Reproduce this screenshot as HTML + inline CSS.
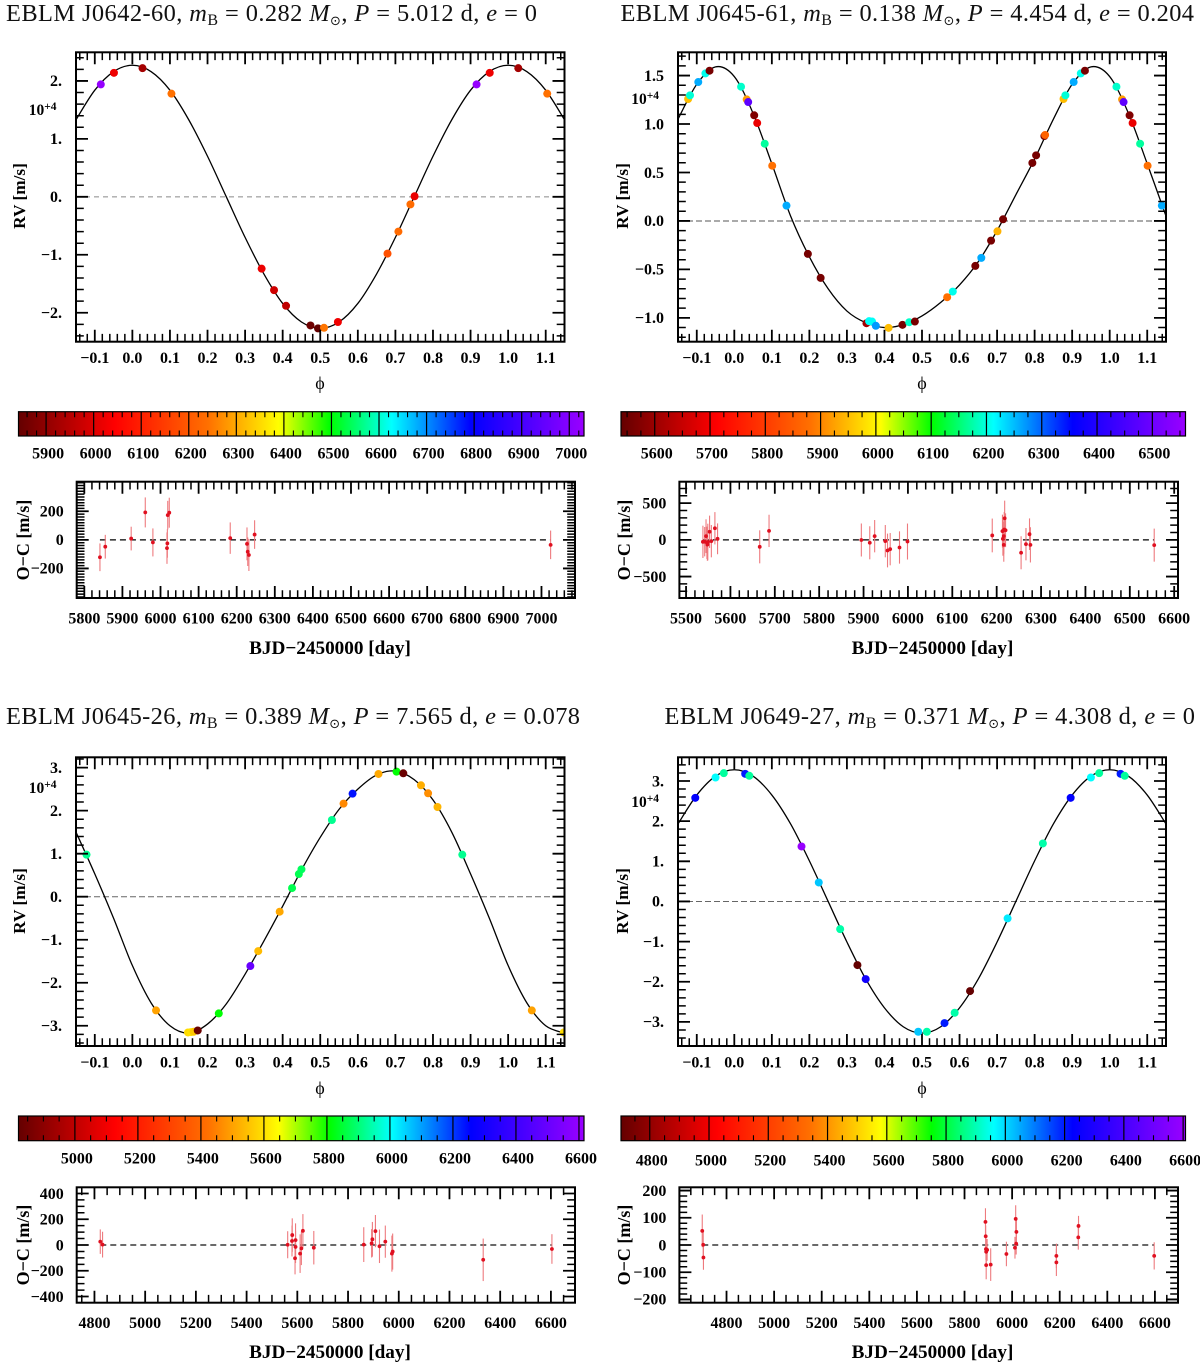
<!DOCTYPE html>
<html lang="en">
<head>
<meta charset="utf-8">
<title>EBLM radial velocity curves</title>
<style>
  html, body { margin: 0; padding: 0; background: #fff; }
  svg { display: block; font-family: "Liberation Serif", "DejaVu Serif", serif; }
  .title { font-size: 24.4px; fill: #111; }
  .sub { font-size: 16px; }
  .axt { font-weight: bold; fill: #000; text-anchor: middle; }
  .sun { font-family: "DejaVu Sans", sans-serif; font-size: 13px; }
  .exp { font-weight: bold; font-size: 15.5px; text-anchor: end; }
  .exp tspan { font-size: 11.5px; }
</style>
</head>
<body>
<svg id="figure" xmlns="http://www.w3.org/2000/svg" width="1200" height="1369" viewBox="0 0 1200 1369">
  <rect x="0" y="0" width="1200" height="1369" fill="#fff"/>
  <defs><linearGradient id="rainbow" x1="0" x2="1" y1="0" y2="0"></linearGradient></defs>

  <text class="title" x="6" y="21" textLength="531">EBLM J0642-60, <tspan font-style="italic">m</tspan><tspan class="sub" dy="4">B</tspan><tspan dy="-4"> = 0.282 </tspan><tspan font-style="italic">M</tspan><tspan class="sun" dy="4">⊙</tspan><tspan dy="-4">, </tspan><tspan font-style="italic">P</tspan> = 5.012 d, <tspan font-style="italic">e</tspan> = 0</text>
  <text class="title" x="620.5" y="21" textLength="573.5">EBLM J0645-61, <tspan font-style="italic">m</tspan><tspan class="sub" dy="4">B</tspan><tspan dy="-4"> = 0.138 </tspan><tspan font-style="italic">M</tspan><tspan class="sun" dy="4">⊙</tspan><tspan dy="-4">, </tspan><tspan font-style="italic">P</tspan> = 4.454 d, <tspan font-style="italic">e</tspan> = 0.204</text>
  <text class="title" x="6" y="724" textLength="574">EBLM J0645-26, <tspan font-style="italic">m</tspan><tspan class="sub" dy="4">B</tspan><tspan dy="-4"> = 0.389 </tspan><tspan font-style="italic">M</tspan><tspan class="sun" dy="4">⊙</tspan><tspan dy="-4">, </tspan><tspan font-style="italic">P</tspan> = 7.565 d, <tspan font-style="italic">e</tspan> = 0.078</text>
  <text class="title" x="664.5" y="724" textLength="530.5">EBLM J0649-27, <tspan font-style="italic">m</tspan><tspan class="sub" dy="4">B</tspan><tspan dy="-4"> = 0.371 </tspan><tspan font-style="italic">M</tspan><tspan class="sun" dy="4">⊙</tspan><tspan dy="-4">, </tspan><tspan font-style="italic">P</tspan> = 4.308 d, <tspan font-style="italic">e</tspan> = 0</text>

  <text class="axt" font-size="17.3" transform="translate(25,196) rotate(-90)">RV [m/s]</text>
  <text class="axt" font-size="17.3" transform="translate(628,196) rotate(-90)">RV [m/s]</text>
  <text class="axt" font-size="17.3" transform="translate(25,901) rotate(-90)">RV [m/s]</text>
  <text class="axt" font-size="17.3" transform="translate(628,901) rotate(-90)">RV [m/s]</text>

  <text class="axt" font-size="18" transform="translate(29,540) rotate(-90)">O−C [m/s]</text>
  <text class="axt" font-size="18" transform="translate(630,540) rotate(-90)">O−C [m/s]</text>
  <text class="axt" font-size="18" transform="translate(29,1245) rotate(-90)">O−C [m/s]</text>
  <text class="axt" font-size="18" transform="translate(630,1245) rotate(-90)">O−C [m/s]</text>

  <text class="axt" font-size="19.2" x="330" y="654">BJD−2450000 [day]</text>
  <text class="axt" font-size="19.2" x="932.5" y="654">BJD−2450000 [day]</text>
  <text class="axt" font-size="19.2" x="330" y="1358">BJD−2450000 [day]</text>
  <text class="axt" font-size="19.2" x="932.5" y="1358">BJD−2450000 [day]</text>

  <text font-size="18" text-anchor="middle" x="320" y="389">ϕ</text>
  <text font-size="18" text-anchor="middle" x="922" y="389">ϕ</text>
  <text font-size="18" text-anchor="middle" x="320" y="1094">ϕ</text>
  <text font-size="18" text-anchor="middle" x="922" y="1094">ϕ</text>

  <text class="exp" x="56.5" y="115">10<tspan dy="-5">+4</tspan></text>
  <text class="exp" x="659" y="104">10<tspan dy="-5">+4</tspan></text>
  <text class="exp" x="56.5" y="793">10<tspan dy="-5">+4</tspan></text>
  <text class="exp" x="659" y="807">10<tspan dy="-5">+4</tspan></text>

  <g id="plots"></g>
</svg>

<script>
/* ---------- shared phase grid of the model curves ---------- */
const curvePhase = [-0.15,-0.10,-0.05,0,0.05,0.10,0.15,0.20,0.25,0.30,0.35,0.40,0.45,0.50,0.55,0.60,0.65,0.70,0.75,0.80,0.85,0.90,0.95,1.00,1.05,1.10,1.15];

/* ---------- J0642-60 ---------- */
const a1Curve = [1.33,1.84,2.16,2.27,2.16,1.84,1.33,0.70,0,-0.70,-1.33,-1.84,-2.16,-2.27,-2.16,-1.84,-1.33,-0.70,0,0.70,1.33,1.84,2.16,2.27,2.16,1.84,1.33];
const a1Phase = [0.916,0.951,0.027,0.104,0.344,0.377,0.409,0.474,0.494,0.510,0.547,0.679,0.708,0.740,0.751];
const a1Rv = [1.94,2.14,2.22,1.78,-1.24,-1.61,-1.88,-2.22,-2.27,-2.26,-2.16,-0.98,-0.60,-0.13,0.01];
const a1Date = [7025,6022,5925,6240,6020,5982,5962,5855,5841,6245,6025,6185,6230,6232,6018];
const a1OcDate = [5841,5855,5923,5960,5980,6017,6018,6019,6023,6183,6227,6229,6232,6247,7024];
const a1OcRes = [-122,-48,9,192,-18,-58,-25,173,190,12,-28,-83,-106,37,-35];
const a1OcErr = [97,83,83,105,98,110,100,100,105,110,115,100,112,100,100];
const a1RvTicks = [-2,-1,0,1,2];
const a1BarTicks = [5900,6000,6100,6200,6300,6400,6500,6600,6700,6800,6900,7000];
const a1OcXTicks = [5800,5900,6000,6100,6200,6300,6400,6500,6600,6700,6800,6900,7000];
const a1OcYTicks = [-200,0,200];

/* ---------- J0645-61 ---------- */
const a2Curve = [1.05,1.41,1.59,1.49,1.11,0.59,0.05,-0.37,-0.70,-0.93,-1.05,-1.10,-1.07,-0.98,-0.84,-0.66,-0.42,-0.10,0.27,0.64,1.05,1.41,1.59,1.49,1.11,0.59,0.05];
const a2Phase = [0.877,0.882,0.904,0.923,0.934,0.018,0.033,0.037,0.053,0.061,0.081,0.101,0.139,0.196,0.230,0.352,0.359,0.367,0.377,0.411,0.448,0.466,0.481,0.567,0.582,0.642,0.658,0.684,0.701,0.716,0.794,0.804,0.826,0.828];
const a2Rv = [1.258,1.296,1.433,1.522,1.55,1.385,1.254,1.227,1.09,1.01,0.797,0.57,0.158,-0.34,-0.588,-1.055,-1.034,-1.038,-1.082,-1.103,-1.072,-1.045,-1.038,-0.787,-0.729,-0.464,-0.381,-0.203,-0.107,0.017,0.598,0.677,0.876,0.887];
const a2Date = [5950,6195,6260,6205,5560,6190,5920,6480,5570,5690,6170,5880,6260,5560,5560,5610,6210,6210,6270,5950,5560,6190,5560,5880,6205,5560,6260,5560,5940,5560,5560,5560,5560,5860];
const a2OcDate = [5538,5542,5545,5547,5548,5549,5553,5557,5565,5571,5666,5687,5895,5914,5925,5949,5954,5960,5981,5999,6190,6213,6214,6216,6216,6217,6218,6220,6255,6266,6274,6276,6555];
const a2OcRes = [-27,-25,50,-40,-65,-30,110,-18,158,14,-95,122,-2,-40,50,-18,-145,-127,-104,-23,60,118,14,-68,50,140,294,131,-176,-59,77,-68,-72];
const a2OcErr = [220,200,230,220,220,250,220,220,220,210,225,220,225,225,220,220,230,220,220,245,230,225,230,230,240,240,240,230,225,220,215,240,225];
const a2RvTicks = [-1,-0.5,0,0.5,1,1.5];
const a2BarTicks = [5600,5700,5800,5900,6000,6100,6200,6300,6400,6500];
const a2OcXTicks = [5500,5600,5700,5800,5900,6000,6100,6200,6300,6400,6500,6600];
const a2OcYTicks = [-500,0,500];

/* ---------- J0645-26 ---------- */
const a3Curve = [1.50,0.53,-0.50,-1.60,-2.47,-3.00,-3.17,-2.96,-2.49,-1.80,-1.03,-0.22,0.62,1.38,2.03,2.50,2.83,2.92,2.72,2.25,1.50,0.53,-0.50,-1.60,-2.47,-3.00,-3.17];
const a3Phase = [0.878,0.063,0.148,0.156,0.163,0.174,0.230,0.314,0.335,0.392,0.425,0.443,0.450,0.531,0.562,0.586,0.655,0.703,0.721,0.768,0.787,0.812];
const a3Rv = [0.977,-2.643,-3.155,-3.147,-3.14,-3.109,-2.713,-1.612,-1.264,-0.349,0.20,0.527,0.636,1.783,2.163,2.395,2.853,2.907,2.868,2.589,2.403,2.085];
const a3Date = [5920,5500,5590,5600,5560,4830,5810,6500,5540,5510,5870,5870,5880,5920,5460,6240,5510,5810,4830,5520,5470,5530];
const a3OcDate = [4823,4832,5562,5579,5580,5591,5593,5593,5611,5616,5622,5665,5862,5893,5896,5908,5924,5947,5973,5976,6333,6604];
const a3OcRes = [26,3,2,31,77,-103,-15,38,-67,-26,110,-21,3,13,44,108,-10,26,-67,-51,-115,-31];
const a3OcErr = [95,100,105,120,130,125,125,130,150,130,130,130,135,110,135,125,130,125,140,140,165,115];
const a3RvTicks = [-3,-2,-1,0,1,2,3];
const a3BarTicks = [5000,5200,5400,5600,5800,6000,6200,6400,6600];
const a3OcXTicks = [4800,5000,5200,5400,5600,5800,6000,6200,6400,6600];
const a3OcYTicks = [-400,-200,0,200,400];

/* ---------- J0649-27 ---------- */
const a4Curve = [1.93,2.65,3.12,3.28,3.12,2.65,1.93,1.01,0,-1.01,-1.93,-2.65,-3.12,-3.28,-3.12,-2.65,-1.93,-1.01,0,1.01,1.93,2.65,3.12,3.28,3.12,2.65,1.93];
const a4Phase = [0.896,0.950,0.972,0.029,0.040,0.179,0.225,0.282,0.328,0.350,0.490,0.513,0.560,0.587,0.628,0.728,0.822];
const a4Rv = [2.581,3.087,3.195,3.178,3.129,1.369,0.473,-0.689,-1.585,-1.934,-3.245,-3.245,-3.029,-2.772,-2.232,-0.423,1.444];
const a4Date = [6230,5960,5880,6200,5880,6600,6020,5890,4700,6270,6020,5890,6200,5890,4700,5980,5890];
const a4OcDate = [4698,4702,4703,5888,5889,5890,5891,5895,5891,5910,5976,6012,6017,6015,6018,6186,6186,6278,6279,6597];
const a4OcRes = [52,1,-46,85,32,-15,-25,-18,-74,-72,-33,-10,5,96,48,-40,-64,28,70,-40];
const a4OcErr = [60,55,45,50,40,40,45,40,52,60,45,40,40,50,50,45,50,45,37,50];
const a4RvTicks = [-3,-2,-1,0,1,2,3];
const a4BarTicks = [4800,5000,5200,5400,5600,5800,6000,6200,6400,6600];
const a4OcXTicks = [4800,5000,5200,5400,5600,5800,6000,6200,6400,6600];
const a4OcYTicks = [-200,-100,0,100,200];

/* ---------- phase tick labels shared by all RV plots ---------- */
const phaseTicks = [-0.1,0,0.1,0.2,0.3,0.4,0.5,0.6,0.7,0.8,0.9,1.0,1.1];

/* ---------- layout of each panel (not data) ---------- */
const panels = [
  { id:'j0642', curve:a1Curve, phase:a1Phase, rv:a1Rv, date:a1Date, ocDate:a1OcDate, ocRes:a1OcRes, ocErr:a1OcErr,
    rvTicks:a1RvTicks, barTicks:a1BarTicks, ocXTicks:a1OcXTicks, ocYTicks:a1OcYTicks,
    rvBox:[76,52.3,564.5,341.7], rvY:[-2.5,2.494], rvMinor:0.2, rvDec:0, rvZero:['#aaa',1.4,'5 4'],
    barBox:[18.5,411.7,584,436], barDom:[5842,7031], barMinor:20, barLabelY:453,
    ocBox:[76.7,481.7,575,598], ocX:[5780,7088], ocY:[-407,407], ocXMinor:20, ocYMinor:20, ocZero:['#000',1.2,'6 4'] },
  { id:'j0645-61', curve:a2Curve, phase:a2Phase, rv:a2Rv, date:a2Date, ocDate:a2OcDate, ocRes:a2OcRes, ocErr:a2OcErr,
    rvTicks:a2RvTicks, barTicks:a2BarTicks, ocXTicks:a2OcXTicks, ocYTicks:a2OcYTicks,
    rvBox:[678,52.3,1166,341.7], rvY:[-1.246,1.74], rvMinor:0.1, rvDec:1, rvZero:['#555',1,'6 3'],
    barBox:[621,411.7,1185.5,436], barDom:[5539,6560], barMinor:25, barLabelY:453,
    ocBox:[679.4,481.7,1178,598], ocX:[5485,6608.6], ocY:[-792,792], ocXMinor:20, ocYMinor:100, ocZero:['#000',1.2,'6 4'] },
  { id:'j0645-26', curve:a3Curve, phase:a3Phase, rv:a3Rv, date:a3Date, ocDate:a3OcDate, ocRes:a3OcRes, ocErr:a3OcErr,
    rvTicks:a3RvTicks, barTicks:a3BarTicks, ocXTicks:a3OcXTicks, ocYTicks:a3OcYTicks,
    rvBox:[76,757.3,564.5,1046], rvY:[-3.47,3.24], rvMinor:0.2, rvDec:0, rvZero:['#666',1,'6 3'],
    barBox:[18.5,1116,584,1140.7], barDom:[4821,6616], barMinor:50, barLabelY:1158,
    ocBox:[76.7,1187.3,575,1302.7], ocX:[4730,6695], ocY:[-448,448], ocXMinor:50, ocYMinor:50, ocZero:['#555',1.8,'6 4'] },
  { id:'j0649', curve:a4Curve, phase:a4Phase, rv:a4Rv, date:a4Date, ocDate:a4OcDate, ocRes:a4OcRes, ocErr:a4OcErr,
    rvTicks:a4RvTicks, barTicks:a4BarTicks, ocXTicks:a4OcXTicks, ocYTicks:a4OcYTicks,
    rvBox:[678,757.3,1166,1046], rvY:[-3.6,3.59], rvMinor:0.2, rvDec:0, rvZero:['#666',1,'6 3'],
    barBox:[621,1116,1185.5,1140.7], barDom:[4703,6608], barMinor:50, barLabelY:1160,
    ocBox:[679.4,1187.3,1178,1302.7], ocX:[4602,6697], ocY:[-212,212], ocXMinor:50, ocYMinor:20, ocZero:['#555',1.8,'6 4'] }
];

/* ---------- colour map ---------- */
const cmapPos = [0,0.17,0.335,0.46,0.55,0.66,0.80,1];
const cmapRgb = [[100,0,0],[255,0,0],[255,112,0],[255,255,0],[0,255,0],[0,255,255],[0,0,255],[154,0,255]];

const NS = 'http://www.w3.org/2000/svg';
function make(parent, tag, attrs) {
  const node = document.createElementNS(NS, tag);
  for (const k in attrs) node.setAttribute(k, attrs[k]);
  parent.appendChild(node);
  return node;
}
function scale(d0, d1, r0, r1) { return v => r0 + (v - d0) / (d1 - d0) * (r1 - r0); }
function cmap(f) {
  f = Math.max(0, Math.min(1, f));
  let i = 0;
  while (i < cmapPos.length - 2 && f > cmapPos[i + 1]) i++;
  const t = (f - cmapPos[i]) / (cmapPos[i + 1] - cmapPos[i]);
  const c = cmapRgb[i].map((a, j) => Math.round(a + (cmapRgb[i + 1][j] - a) * t));
  return 'rgb(' + c.join(',') + ')';
}
function minorValues(d0, d1, step, majors) {
  const out = [];
  const lo = Math.ceil(d0 / step - 1e-6), hi = Math.floor(d1 / step + 1e-6);
  for (let i = lo; i <= hi; i++) {
    const v = i * step;
    if (!majors.some(m => Math.abs(m - v) < step * 0.01)) out.push(v);
  }
  return out;
}
function fmt(v, dec) {
  const s = Math.abs(v).toFixed(dec);
  return (v < 0 ? '−' : '') + s;
}
function smoothPath(px, py) {
  let d = 'M' + px[0].toFixed(2) + ' ' + py[0].toFixed(2);
  for (let i = 0; i < px.length - 1; i++) {
    const i0 = Math.max(0, i - 1), i3 = Math.min(px.length - 1, i + 2);
    const c1x = px[i] + (px[i + 1] - px[i0]) / 6, c1y = py[i] + (py[i + 1] - py[i0]) / 6;
    const c2x = px[i + 1] - (px[i3] - px[i]) / 6, c2y = py[i + 1] - (py[i3] - py[i]) / 6;
    d += 'C' + c1x.toFixed(2) + ' ' + c1y.toFixed(2) + ' ' + c2x.toFixed(2) + ' ' + c2y.toFixed(2) + ' ' + px[i + 1].toFixed(2) + ' ' + py[i + 1].toFixed(2);
  }
  return d;
}
function tickPath(box, xs, ys, xMajor, yMajor, len) {
  const [l, t, r, b] = box;
  let d = '';
  xMajor.forEach(v => { const x = xs(v).toFixed(2); d += 'M' + x + ' ' + t + 'V' + (t + len) + 'M' + x + ' ' + b + 'V' + (b - len); });
  yMajor.forEach(v => { const y = ys(v).toFixed(2); d += 'M' + l + ' ' + y + 'H' + (l + len) + 'M' + r + ' ' + y + 'H' + (r - len); });
  return d;
}
function drawFrame(g, box, xs, ys, xDom, yDom, xMajor, yMajor, xStep, yStep, label) {
  const minorT = make(g, 'path', { d: tickPath(box, xs, ys, minorValues(xDom[0], xDom[1], xStep, xMajor), minorValues(yDom[0], yDom[1], yStep, yMajor), 7.8), stroke: '#000', 'stroke-width': 1.5, fill: 'none' });
  
  
  const majorT = make(g, 'path', { d: tickPath(box, xs, ys, xMajor, yMajor, 12), stroke: '#000', 'stroke-width': 1.8, fill: 'none' });
  
  
  const frame = make(g, 'rect', { x: box[0], y: box[1], width: box[2] - box[0], height: box[3] - box[1], fill: 'none', stroke: '#000', 'stroke-width': 2 });
  
  
}
function tickText(g, x, y, str, anchor, name) {
  const t = make(g, 'text', { x: x, y: y, 'text-anchor': anchor, 'font-size': 16, 'font-weight': 'bold', fill: '#000' });
  t.textContent = str;
  
  
}

/* gradient for the colour bars */
const grad = document.getElementById('rainbow');
cmapPos.forEach((p, i) => {
  make(grad, 'stop', { offset: p, 'stop-color': 'rgb(' + cmapRgb[i].join(',') + ')' });
});

const root = document.getElementById('plots');
panels.forEach(p => {
  const group = make(root, 'g', {});
  
  
  const frac = scale(p.barDom[0], p.barDom[1], 0, 1);

  /* ---- RV plot ---- */
  const rvG = make(group, 'g', {});
  
  
  const [l, t, r, b] = p.rvBox;
  const xDom = [-0.15, 1.15];
  const xs = scale(xDom[0], xDom[1], l, r);
  const ys = scale(p.rvY[0], p.rvY[1], b, t);
  const clip = make(rvG, 'clipPath', { id: 'clip-' + p.id });
  make(clip, 'rect', { x: l, y: t, width: r - l, height: b - t });

  const zero = make(rvG, 'line', { x1: l, x2: r, y1: ys(0), y2: ys(0), stroke: p.rvZero[0], 'stroke-width': p.rvZero[1], 'stroke-dasharray': p.rvZero[2] });
  
  

  const curve = make(rvG, 'path', { d: smoothPath(curvePhase.map(xs), p.curve.map(ys)), fill: 'none', stroke: '#000', 'stroke-width': 1.3, 'clip-path': 'url(#clip-' + p.id + ')' });
  
  

  const dots = make(rvG, 'g', { 'clip-path': 'url(#clip-' + p.id + ')' });
  
  
  p.phase.forEach((ph, i) => {
    [-1, 0, 1].forEach(k => {
      const v = ph + k;
      if (v < xDom[0] - 0.02 || v > xDom[1] + 0.02) return;
      const dot = make(dots, 'circle', { cx: xs(v), cy: ys(p.rv[i]), r: 4, fill: cmap(frac(p.date[i])) });
      
      
    });
  });
  drawFrame(rvG, p.rvBox, xs, ys, xDom, p.rvY, phaseTicks, p.rvTicks, 0.02, p.rvMinor, 'rv-axes');
  phaseTicks.forEach(v => tickText(rvG, xs(v), b + 21.5, fmt(v, 1), 'middle', 'phase-tick-label'));
  p.rvTicks.forEach(v => tickText(rvG, l - 14, ys(v) + 5.3, fmt(v, p.rvDec) + (p.rvDec === 0 ? '.' : ''), 'end', 'rv-tick-label'));

  /* ---- colour bar ---- */
  const barG = make(group, 'g', {});
  
  
  const [bl, bt, br, bb] = p.barBox;
  const bs = scale(p.barDom[0], p.barDom[1], bl, br);
  const ramp = make(barG, 'rect', { x: bl, y: bt, width: br - bl, height: bb - bt, fill: 'url(#rainbow)', stroke: '#000', 'stroke-width': 1.2 });
  
  
  let dMinor = '';
  minorValues(p.barDom[0], p.barDom[1], p.barMinor, p.barTicks).forEach(v => {
    const x = bs(v).toFixed(2);
    dMinor += 'M' + x + ' ' + bt + 'V' + (bt + 5.5) + 'M' + x + ' ' + bb + 'V' + (bb - 5.5);
  });
  const barMinor = make(barG, 'path', { d: dMinor, stroke: '#000', 'stroke-width': 1.1, fill: 'none' });
  
  
  let dMajor = '';
  p.barTicks.forEach(v => { const x = bs(v).toFixed(2); dMajor += 'M' + x + ' ' + bt + 'V' + bb; });
  const barMajor = make(barG, 'path', { d: dMajor, stroke: '#000', 'stroke-width': 1.2, fill: 'none' });
  
  
  p.barTicks.forEach(v => tickText(barG, bs(v) + 2, p.barLabelY + 5.3, String(v), 'middle', 'colorbar-tick-label'));

  /* ---- O-C plot ---- */
  const ocG = make(group, 'g', {});
  
  
  const ox = scale(p.ocX[0], p.ocX[1], p.ocBox[0], p.ocBox[2]);
  const oy = scale(p.ocY[0], p.ocY[1], p.ocBox[3], p.ocBox[1]);
  const zeroOc = make(ocG, 'line', { x1: ox(Math.min(...p.ocDate)), x2: ox(Math.max(...p.ocDate)), y1: oy(0), y2: oy(0), stroke: p.ocZero[0], 'stroke-width': p.ocZero[1], 'stroke-dasharray': p.ocZero[2] });
  
  
  p.ocDate.forEach((d, i) => {
    const bar = make(ocG, 'line', { x1: ox(d), x2: ox(d), y1: oy(p.ocRes[i] - p.ocErr[i]), y2: oy(p.ocRes[i] + p.ocErr[i]), stroke: '#ee7a7e', 'stroke-width': 1.1 });
    
    
  });
  p.ocDate.forEach((d, i) => {
    const dot = make(ocG, 'circle', { cx: ox(d), cy: oy(p.ocRes[i]), r: 1.9, fill: '#e01020' });
    
    
  });
  drawFrame(ocG, p.ocBox, ox, oy, p.ocX, p.ocY, p.ocXTicks, p.ocYTicks, p.ocXMinor, p.ocYMinor, 'oc-axes');
  p.ocXTicks.forEach(v => tickText(ocG, ox(v), p.ocBox[3] + 25.5, String(v), 'middle', 'oc-x-tick-label'));
  p.ocYTicks.forEach(v => tickText(ocG, p.ocBox[0] - 13, oy(v) + 5.3, fmt(v, 0), 'end', 'oc-y-tick-label'));
});
</script>
</body>
</html>
